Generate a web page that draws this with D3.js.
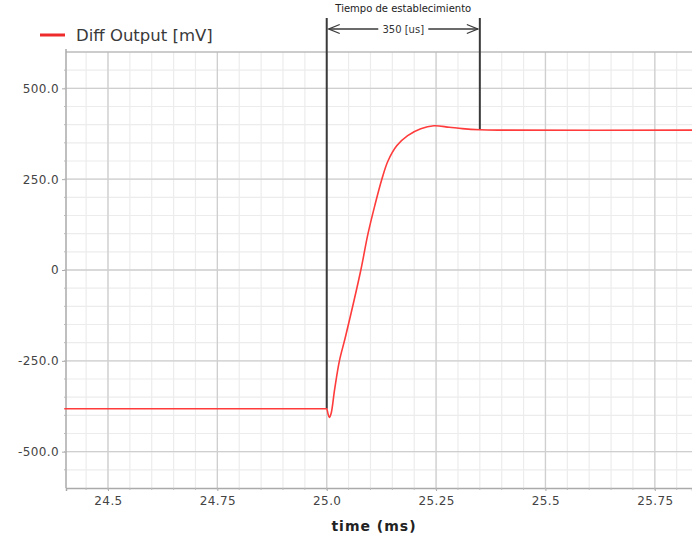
<!DOCTYPE html>
<html>
<head>
<meta charset="utf-8">
<script src="https://cdn.jsdelivr.net/npm/d3@7"></script>
<style>
  html, body { margin: 0; padding: 0; background: #fff; }
  svg { display: block; font-family: "DejaVu Sans", sans-serif; }
</style>
</head>
<body>
<svg id="chart" width="692" height="541"></svg>
<script>
// Step response of the differential output (time in ms, value in mV)
const timeMs = [24.40, 24.997, 25.000, 25.003, 25.006, 25.010, 25.018, 25.029, 25.043, 25.078,
                25.094, 25.110, 25.126, 25.140, 25.160, 25.185, 25.215, 25.245, 25.280, 25.310,
                25.350, 25.400, 25.84];
const diffOutput = [-382, -382, -382, -396, -406, -395, -329, -250, -183, 0,
                    98, 178, 250, 300, 342, 370, 389, 397, 393, 389,
                    386, 385, 385];

const xTicks = [24.5, 24.75, 25.0, 25.25, 25.5, 25.75];
const xTickLabels = ["24.5", "24.75", "25.0", "25.25", "25.5", "25.75"];
const yTicks = [-500, -250, 0, 250, 500];
const yTickLabels = ["-500.0", "-250.0", "0", "250.0", "500.0"];

const settleStart = 25.0;
const settleEnd = 25.35;
const settleLabel = "350 [us]";
const settleTitle = "Tiempo de establecimiento";
const seriesName = "Diff Output [mV]";
const xTitle = "time (ms)";

const svg = d3.select("#chart");
const m = { left: 66, right: 0, top: 52, bottom: 53 };
const W = 692, H = 541;

const x = d3.scaleLinear().domain([24.404, 25.835]).range([m.left, W - m.right]);
const y = d3.scaleLinear().domain([-600, 600]).range([H - m.bottom, m.top]);

const plot = svg.append("g");

// minor grid
const xMinor = d3.range(24.45, 25.84, 0.05);
const yMinor = d3.range(-550, 600, 50);
plot.append("g").selectAll("line").data(xMinor).join("line")
  .attr("x1", d => x(d)).attr("x2", d => x(d))
  .attr("y1", y(600)).attr("y2", y(-600))
  .attr("stroke", "#ececec").attr("stroke-width", 1.2);
plot.append("g").selectAll("line").data(yMinor).join("line")
  .attr("x1", m.left).attr("x2", W)
  .attr("y1", d => y(d)).attr("y2", d => y(d))
  .attr("stroke", "#ececec").attr("stroke-width", 1.2);

// major grid
plot.append("g").selectAll("line").data(xTicks).join("line")
  .attr("x1", d => x(d)).attr("x2", d => x(d))
  .attr("y1", y(600)).attr("y2", y(-600))
  .attr("stroke", "#cfcfcf").attr("stroke-width", 1.3);
plot.append("g").selectAll("line").data(yTicks).join("line")
  .attr("x1", m.left).attr("x2", W)
  .attr("y1", d => y(d)).attr("y2", d => y(d))
  .attr("stroke", "#cfcfcf").attr("stroke-width", 1.3);

// top border
plot.append("line").attr("x1", m.left).attr("x2", W)
  .attr("y1", y(600)).attr("y2", y(600))
  .attr("stroke", "#bbb").attr("stroke-width", 1.3);

// axes
const xAxis = d3.axisBottom(x).tickValues(xTicks)
  .tickFormat((d, i) => xTickLabels[i]).tickSize(3).tickPadding(5);
const yAxis = d3.axisLeft(y).tickValues(yTicks)
  .tickFormat((d, i) => yTickLabels[i]).tickSize(4).tickPadding(3);

const gx = svg.append("g").attr("transform", `translate(0,${H - m.bottom})`).call(xAxis);
const gy = svg.append("g").attr("transform", `translate(${m.left},0)`).call(yAxis);
[gx, gy].forEach(g => {
  g.select(".domain").attr("stroke", "#aaa").attr("stroke-width", 1.5);
  g.selectAll(".tick line").attr("stroke", "#aaa");
  g.selectAll("text").attr("fill", "#444").attr("font-size", 12)
    .attr("letter-spacing", 0.4)
    .attr("font-family", "DejaVu Sans, sans-serif");
});
gy.select(".domain").attr("d", `M0,${y(600) - 3}V${y(-600)}`);

// minor ticks
svg.append("g").selectAll("line").data(xMinor).join("line")
  .attr("x1", d => x(d)).attr("x2", d => x(d))
  .attr("y1", y(-600)).attr("y2", y(-600) + 2)
  .attr("stroke", "#bbb");
svg.append("g").selectAll("line").data(yMinor).join("line")
  .attr("x1", m.left - 2).attr("x2", m.left)
  .attr("y1", d => y(d)).attr("y2", d => y(d))
  .attr("stroke", "#bbb");

// settling-time markers
const markerColor = "#3a3a3a";
const valueAt = t => {
  const i = d3.bisectLeft(timeMs, t);
  if (timeMs[i] === t) return diffOutput[i];
  const t0 = timeMs[i - 1], t1 = timeMs[i];
  return diffOutput[i - 1] + (diffOutput[i] - diffOutput[i - 1]) * (t - t0) / (t1 - t0);
};
const topY = 18;
svg.append("line")
  .attr("x1", x(settleStart)).attr("x2", x(settleStart))
  .attr("y1", topY).attr("y2", y(valueAt(settleStart)))
  .attr("stroke", markerColor).attr("stroke-width", 2);
svg.append("line")
  .attr("x1", x(settleEnd)).attr("x2", x(settleEnd))
  .attr("y1", topY).attr("y2", y(valueAt(settleEnd)))
  .attr("stroke", markerColor).attr("stroke-width", 2);

const arrowY = 29;
const xa = x(settleStart) + 2, xb = x(settleEnd) - 2, xm = (xa + xb) / 2;
svg.append("line").attr("x1", xa).attr("x2", xm - 25)
  .attr("y1", arrowY).attr("y2", arrowY).attr("stroke", markerColor).attr("stroke-width", 1.3);
svg.append("line").attr("x1", xm + 25).attr("x2", xb)
  .attr("y1", arrowY).attr("y2", arrowY).attr("stroke", markerColor).attr("stroke-width", 1.3);
svg.append("path")
  .attr("d", `M${xa + 11},${arrowY - 4.5}L${xa},${arrowY}L${xa + 11},${arrowY + 4.5}`)
  .attr("fill", "none").attr("stroke", markerColor).attr("stroke-width", 1.3);
svg.append("path")
  .attr("d", `M${xb - 11},${arrowY - 4.5}L${xb},${arrowY}L${xb - 11},${arrowY + 4.5}`)
  .attr("fill", "none").attr("stroke", markerColor).attr("stroke-width", 1.3);
svg.append("text").attr("x", xm).attr("y", arrowY + 3.5)
  .attr("text-anchor", "middle").attr("font-size", 10).attr("fill", "#333")
  .text(settleLabel);
svg.append("text").attr("x", xm).attr("y", 12)
  .attr("text-anchor", "middle").attr("font-size", 10).attr("fill", "#222")
  .text(settleTitle);

// series line
const line = d3.line().x((d, i) => x(timeMs[i])).y(d => y(d)).curve(d3.curveCatmullRom.alpha(0.5));
svg.append("path").datum(diffOutput)
  .attr("d", line).attr("fill", "none")
  .attr("stroke", "#ff3b3b").attr("stroke-width", 1.6);

// legend
svg.append("line").attr("x1", 40).attr("x2", 65).attr("y1", 35).attr("y2", 35)
  .attr("stroke", "#ee2a2a").attr("stroke-width", 3);
svg.append("text").attr("x", 76).attr("y", 40.5)
  .attr("font-size", 16.5).attr("fill", "#3a3a3a").text(seriesName);

// x title
svg.append("text").attr("x", 374).attr("y", 531)
  .attr("text-anchor", "middle").attr("font-size", 14).attr("font-weight", "bold")
  .attr("letter-spacing", 1).attr("fill", "#222").text(xTitle);
</script>
</body>
</html>
